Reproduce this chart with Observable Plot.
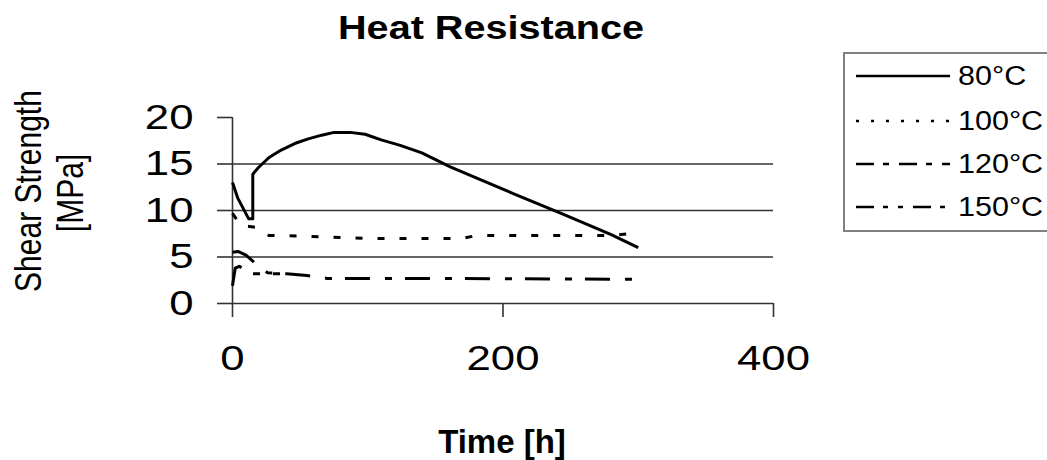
<!DOCTYPE html>
<html>
<head>
<meta charset="utf-8">
<script src="https://cdn.jsdelivr.net/npm/d3@7"></script>
<script src="https://cdn.jsdelivr.net/npm/@observablehq/plot@0.6"></script>
<style>
  html, body { margin: 0; padding: 0; background: #fff; }
  body { font-family: "Liberation Sans", Arial, sans-serif; color: #000; }
  #wrap { position: relative; width: 1047px; height: 460px; overflow: hidden; }
  #wrap svg.plot { position: absolute; left: 0; top: 0; }
  .title { position: absolute; left: 0; width: 982px; top: 11px; text-align: center;
           font-size: 33px; line-height: 33px; font-weight: bold; transform: scaleX(1.2); white-space: nowrap; }
  .xtitle { position: absolute; left: 302px; width: 400px; top: 425px; text-align: center;
            font-size: 33px; line-height: 33px; font-weight: bold; white-space: nowrap; }
  .ytitle { position: absolute; width: 300px; height: 30px; text-align: center;
            font-size: 30px; line-height: 30px; white-space: nowrap;
            transform: scaleX(1.25) rotate(-90deg); transform-origin: 50% 50%; }
  #legend { position: absolute; left: 843px; top: 52px; width: 260px; height: 180px;
            border: 2px solid #808080; box-sizing: border-box; }
  .lg-line { position: absolute; left: 856px; width: 94px; height: 10px; overflow: visible; }
  .lg-text { position: absolute; left: 958px; height: 28px; font-size: 27px; line-height: 28px;
             white-space: nowrap; transform: scaleX(1.13); transform-origin: 0 50%; }
</style>
</head>
<body>
<div id="wrap"></div>
<script>
// ---- data ----
const seriesNames = ["80°C", "100°C", "120°C", "150°C"];

const t80 = [0, 4, 12, 15, 15, 19, 27, 36, 46, 56, 66, 75, 87, 98, 110, 124, 140, 161, 185, 208, 243, 280, 300];
const v80 = [13.0, 11.3, 9.1, 9.1, 13.9, 14.6, 15.7, 16.5, 17.2, 17.7, 18.1, 18.4, 18.4, 18.2, 17.6, 17.0, 16.2, 14.7, 13.2, 11.8, 9.7, 7.4, 6.0];

const t100 = [0, 6, 17, 27, 40, 100, 170, 180, 280, 300];
const v100 = [9.7, 8.4, 8.2, 7.3, 7.3, 7.0, 7.0, 7.3, 7.3, 7.6];

const t120 = [0, 4, 10, 20, 26, 40, 55, 70, 150, 300];
const v120 = [5.5, 5.6, 5.2, 3.9, 3.3, 3.2, 3.0, 2.7, 2.7, 2.6];

const t150 = [0, 2, 5, 12, 15, 42];
const v150 = [1.9, 3.8, 4.0, 3.4, 3.2, 3.2];

const xTicks = [0, 200, 400];
const yTicks = [0, 5, 10, 15, 20];
const yGrid = [5, 10, 15];

// ---- styles ----
const plotDash = {"80°C": "none", "100°C": "7,15", "120°C": "25,15,7,13", "150°C": "25,13,7,13,7,13"};
const legendDash = {"80°C": "none", "100°C": "3,12", "120°C": "18,9,6,10", "150°C": "18,9,5,10,5,10"};

const rows = (name, ts, vs) => ts.map((t, i) => ({series: name, t, v: vs[i]}));
const data = {
  "80°C": rows("80°C", t80, v80),
  "100°C": rows("100°C", t100, v100),
  "120°C": rows("120°C", t120, v120),
  "150°C": rows("150°C", t150, v150)
};

const axisColor = "#333";
const chart = Plot.plot({
  width: 1047,
  height: 460,
  marginLeft: 232,
  marginRight: 274,
  marginTop: 117,
  marginBottom: 157,
  style: {fontFamily: "'Liberation Sans', Arial, sans-serif", background: "transparent", color: "#000", overflow: "visible"},
  x: {domain: [0, 400]},
  y: {domain: [0, 20]},
  marks: [
    Plot.gridY(yGrid, {stroke: axisColor, strokeOpacity: 1, strokeWidth: 1.6}),
    Plot.ruleY([0], {stroke: axisColor, strokeWidth: 1.6}),
    Plot.ruleX([0], {stroke: axisColor, strokeWidth: 1.6}),
    Plot.axisY(yTicks, {tickSize: 15, tickPadding: 24, fontSize: 35, label: null, stroke: axisColor, strokeWidth: 1.6}),
    Plot.axisX(xTicks, {tickSize: 14, tickPadding: 28, fontSize: 35, label: null, stroke: axisColor, strokeWidth: 1.6}),
    ...seriesNames.map(name => Plot.line(data[name], {
      x: "t", y: "v", stroke: "#000", strokeWidth: 3,
      strokeDasharray: plotDash[name], strokeLinecap: "butt", strokeLinejoin: "round"
    }))
  ]
});
chart.classList.add("plot");

const wrap = document.getElementById("wrap");
wrap.appendChild(chart);

// stretch tick labels horizontally like the reference (about their anchor point)
const stretch = (sel, anchor) => {
  chart.querySelectorAll(sel).forEach(t => {
    const b = t.getBBox();
    const ax = anchor === "end" ? b.x + b.width : b.x + b.width / 2;
    const tr = t.getAttribute("transform") || "";
    t.setAttribute("transform", `${tr} translate(${ax},0) scale(1.25,1) translate(${-ax},0)`);
  });
};
stretch('g[aria-label="y-axis tick label"] text', "end");
stretch('g[aria-label="x-axis tick label"] text', "middle");

// titles
const title = document.createElement("div");
title.className = "title"; title.textContent = "Heat Resistance";
wrap.appendChild(title);

const xt = document.createElement("div");
xt.className = "xtitle"; xt.textContent = "Time [h]";
wrap.appendChild(xt);

const yLines = [["Shear Strength", 27.5, 191], ["[MPa]", 69.5, 193]];
yLines.forEach(([txt, cx, cy]) => {
  const d = document.createElement("div");
  d.className = "ytitle"; d.textContent = txt;
  d.style.left = (cx - 150) + "px"; d.style.top = (cy - 15) + "px";
  wrap.appendChild(d);
});

// legend
const lg = document.createElement("div");
lg.id = "legend";
wrap.appendChild(lg);
const legendY = [76, 121, 164, 207];
seriesNames.forEach((name, i) => {
  const ns = "http://www.w3.org/2000/svg";
  const s = document.createElementNS(ns, "svg");
  s.setAttribute("class", "lg-line");
  s.setAttribute("width", 94); s.setAttribute("height", 10);
  s.style.top = (legendY[i] - 5) + "px";
  const l = document.createElementNS(ns, "line");
  l.setAttribute("x1", 0); l.setAttribute("x2", 94);
  l.setAttribute("y1", 5); l.setAttribute("y2", 5);
  l.setAttribute("stroke", "#000"); l.setAttribute("stroke-width", 2.5);
  if (legendDash[name] !== "none") l.setAttribute("stroke-dasharray", legendDash[name]);
  s.appendChild(l);
  wrap.appendChild(s);
  const tx = document.createElement("div");
  tx.className = "lg-text"; tx.textContent = name;
  tx.style.top = (legendY[i] - 14) + "px";
  wrap.appendChild(tx);
});
</script>
</body>
</html>
